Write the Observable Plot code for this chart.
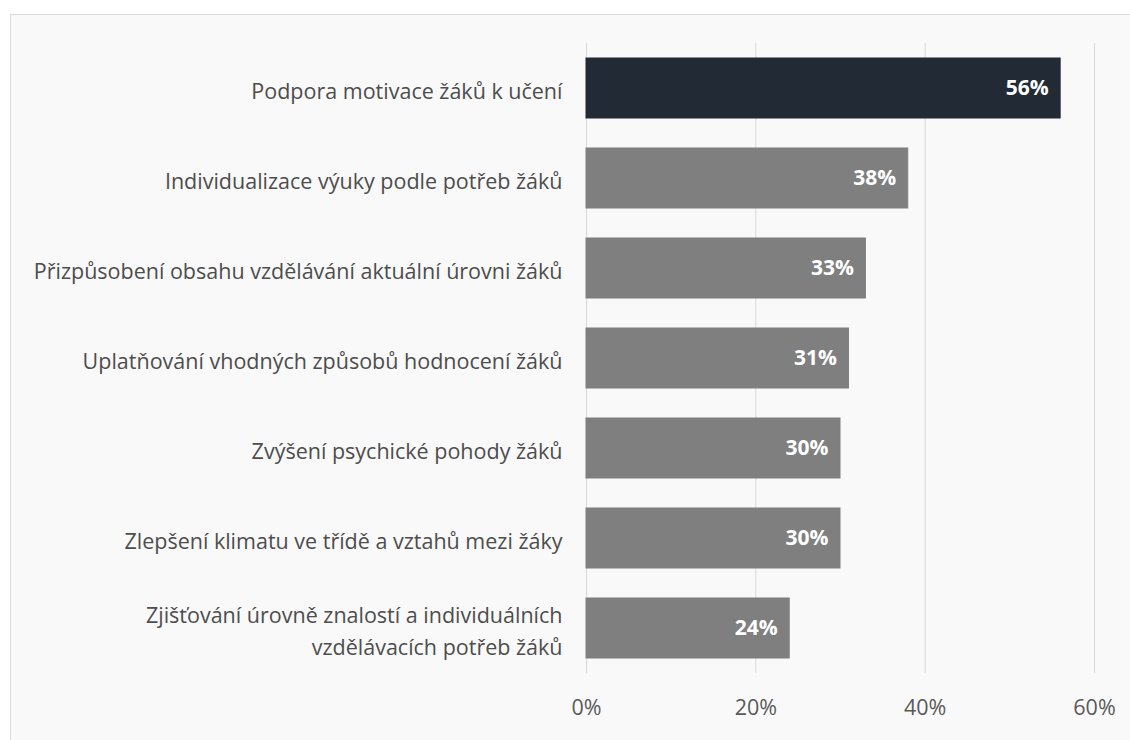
<!DOCTYPE html>
<html>
<head>
<meta charset="utf-8">
<script src="https://cdn.jsdelivr.net/npm/d3@7"></script>
<script src="https://cdn.jsdelivr.net/npm/@observablehq/plot@0.6"></script>
<style>
  html, body { margin: 0; padding: 0; background: #ffffff; width: 1130px; height: 740px; overflow: hidden; }
  #panel { position: absolute; left: 10px; top: 14px; width: 1130px; height: 740px; background: #f9f9f9; border: 1px solid #dadada; box-sizing: border-box; }
  #chart { position: absolute; left: 0; top: 0; }
</style>
</head>
<body>
<div id="panel"></div>
<div id="chart"></div>
<script>
const categories = [
  "Podpora motivace žáků k učení",
  "Individualizace výuky podle potřeb žáků",
  "Přizpůsobení obsahu vzdělávání aktuální úrovni žáků",
  "Uplatňování vhodných způsobů hodnocení žáků",
  "Zvýšení psychické pohody žáků",
  "Zlepšení klimatu ve třídě a vztahů mezi žáky",
  "Zjišťování úrovně znalostí a individuálních\nvzdělávacích potřeb žáků"
];
const values = [56, 38, 33, 31, 30, 30, 24];
const highlighted = [true, false, false, false, false, false, false];
const xTicks = [0, 20, 40, 60];

const data = categories.map((c, i) => ({category: c, value: values[i], hi: highlighted[i]}));

const plot = Plot.plot({
  width: 1130,
  height: 740,
  marginLeft: 586,
  marginRight: 36,
  marginTop: 43,
  marginBottom: 67,
  style: {background: "transparent", fontFamily: "'Open Sans', sans-serif"},
  x: {domain: [0, 60], ticks: xTicks, tickFormat: d => d + "%"},
  y: {domain: categories, paddingInner: 1/3, paddingOuter: 1/6, label: null},
  marks: [
    Plot.ruleX(xTicks, {stroke: "#d9d9d9", strokeWidth: 1}),
    Plot.barX(data, {
      x: "value", y: "category",
      fill: d => d.hi ? "#222a35" : "#7f7f7f",
      stroke: d => d.hi ? "#222a35" : "#7f7f7f"
    }),
    Plot.text(data, {
      x: "value", y: "category",
      text: d => d.value + "%",
      textAnchor: "end", dx: -12,
      fill: "white", fontWeight: "bold", fontSize: 21
    }),
    Plot.axisX({ticks: xTicks, tickFormat: d => d + "%", tickSize: 0, tickPadding: 26, fontSize: 21.5, color: "#595959", label: null}),
    Plot.axisY({tickSize: 0, tickPadding: 24, fontSize: 21.5, color: "#4d4d4d", lineHeight: 1.5, label: null})
  ]
});
document.getElementById("chart").appendChild(plot);
</script>
</body>
</html>
